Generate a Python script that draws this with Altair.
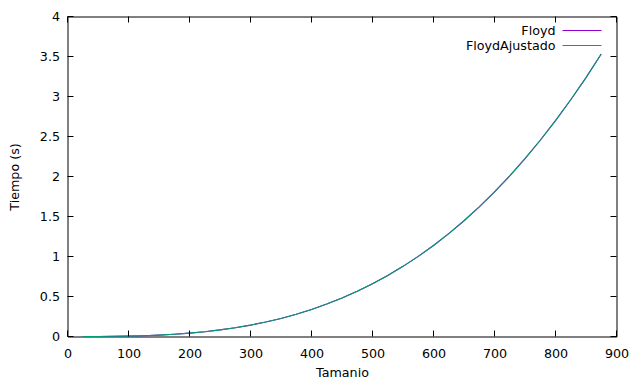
import altair as alt
import pandas as pd

tamanio = [25, 50, 75, 100, 125, 150, 175, 200, 225, 250, 275, 300, 325, 350, 375, 400,
           425, 450, 475, 500, 525, 550, 575, 600, 625, 650, 675, 700, 725, 750, 775,
           800, 825, 850, 875]
floyd = [0.0001, 0.0007, 0.0022, 0.0053, 0.0103, 0.0178, 0.0282, 0.0422, 0.060, 0.0823,
         0.1096, 0.1423, 0.181, 0.226, 0.278, 0.337, 0.405, 0.480, 0.565, 0.659, 0.763,
         0.877, 1.002, 1.138, 1.286, 1.447, 1.621, 1.808, 2.008, 2.223, 2.453, 2.698,
         2.959, 3.236, 3.531]
floyd_ajustado = [0.0001, 0.0007, 0.0022, 0.0053, 0.0103, 0.0178, 0.0282, 0.0422, 0.060, 0.0823,
                  0.1096, 0.1423, 0.181, 0.226, 0.278, 0.337, 0.405, 0.480, 0.565, 0.659, 0.763,
                  0.877, 1.002, 1.138, 1.286, 1.447, 1.621, 1.808, 2.008, 2.223, 2.453, 2.698,
                  2.959, 3.236, 3.531]
series_names = ["Floyd", "FloydAjustado"]
series_colors = ["#9400d3", "#009e73"]
x_ticks = [0, 100, 200, 300, 400, 500, 600, 700, 800, 900]
y_ticks = [0, 0.5, 1, 1.5, 2, 2.5, 3, 3.5, 4]

W, H = 549, 320
FONT = "DejaVu Sans"
FS = 12.7

df = pd.DataFrame({
    "Tamanio": tamanio * 2,
    "Tiempo": floyd + floyd_ajustado,
    "serie": [series_names[0]] * len(tamanio) + [series_names[1]] * len(tamanio),
})

xs = alt.Scale(domain=[0, 900], nice=False, zero=False)
ys = alt.Scale(domain=[0, 4], nice=False, zero=False)
cs = alt.Scale(domain=series_names, range=series_colors)

x_axis = alt.Axis(values=x_ticks, title="Tamanio", grid=False, ticks=False, domain=False,
                  labelPadding=11, titlePadding=6, labelFontSize=FS, titleFontSize=FS,
                  titleFontWeight="normal", labelFont=FONT, titleFont=FONT, labelColor="black",
                  titleColor="black", labelExpr="'' + datum.value", labelOverlap=False,
                  labelFlush=False)
y_axis = alt.Axis(values=y_ticks, title="Tiempo (s)", grid=False, ticks=False, domain=False,
                  labelPadding=8, titlePadding=18, labelFontSize=FS, titleFontSize=FS,
                  titleFontWeight="normal", labelFont=FONT, titleFont=FONT, labelColor="black",
                  titleColor="black", labelExpr="'' + datum.value", labelOverlap=False,
                  labelFlush=False)

lines = alt.Chart(df).mark_line(strokeWidth=1.1).encode(
    x=alt.X("Tamanio:Q", scale=xs, axis=x_axis),
    y=alt.Y("Tiempo:Q", scale=ys, axis=y_axis),
    color=alt.Color("serie:N", scale=cs, legend=None),
    order=alt.Order("serie:N"),
)

xt = pd.DataFrame({"t": x_ticks})
yt = pd.DataFrame({"t": y_ticks})

xb = alt.Chart(xt).mark_rule(color="black", strokeWidth=1).encode(
    x=alt.X("t:Q", scale=xs, axis=x_axis), y=alt.value(H), y2=alt.value(H - 6))
xtp = alt.Chart(xt).mark_rule(color="black", strokeWidth=1).encode(
    x=alt.X("t:Q", scale=xs, axis=x_axis), y=alt.value(0), y2=alt.value(6))
yl = alt.Chart(yt).mark_rule(color="black", strokeWidth=1).encode(
    y=alt.Y("t:Q", scale=ys, axis=y_axis), x=alt.value(0), x2=alt.value(6))
yr = alt.Chart(yt).mark_rule(color="black", strokeWidth=1).encode(
    y=alt.Y("t:Q", scale=ys, axis=y_axis), x=alt.value(W - 6), x2=alt.value(W))

legend_layers = []
for i, name in enumerate(series_names):
    ld = pd.DataFrame({"serie": [name]})
    yy = 14 + 15 * i
    legend_layers.append(
        alt.Chart(ld).mark_text(align="right", baseline="middle", font=FONT, fontSize=FS,
                                color="black").encode(text="serie:N", x=alt.value(488), y=alt.value(yy))
    )
    legend_layers.append(
        alt.Chart(ld).mark_rule(strokeWidth=1.1).encode(
            x=alt.value(495), x2=alt.value(534), y=alt.value(yy),
            color=alt.Color("serie:N", scale=cs, legend=None))
    )

chart = alt.layer(lines, xb, xtp, yl, yr, *legend_layers).properties(
    width=W, height=H,
    background="white",
    autosize=alt.AutoSizeParams(type="none"),
    padding={"left": 59.5, "top": 8.5, "right": 15.5, "bottom": 47.5},
).configure_view(stroke="black", strokeWidth=1)

chart.save("out.html", embed_options={"renderer": "svg", "actions": False})
